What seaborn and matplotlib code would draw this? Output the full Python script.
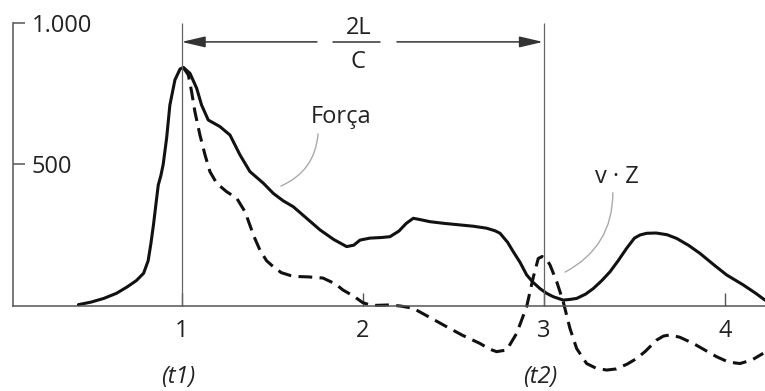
import matplotlib
matplotlib.use("Agg")
import matplotlib.pyplot as plt
import seaborn as sns

# ---- data ----
force_t = [0.43, 0.50, 0.57, 0.64, 0.70, 0.75, 0.79, 0.815, 0.83, 0.845, 0.858,
           0.871, 0.885, 0.898, 0.917, 0.935, 0.963, 0.991, 1.009, 1.046, 1.083,
           1.110, 1.147, 1.211, 1.267, 1.322, 1.377, 1.451, 1.506, 1.56, 1.616,
           1.69, 1.764, 1.84, 1.911, 1.95, 1.985, 2.04, 2.10, 2.15, 2.20, 2.24,
           2.279, 2.32, 2.371, 2.45, 2.53, 2.61, 2.684, 2.73, 2.758, 2.80, 2.831,
           2.868, 2.905, 2.94, 2.978, 3.015, 3.052, 3.107, 3.15, 3.181, 3.23,
           3.273, 3.32, 3.365, 3.41, 3.457, 3.50, 3.531, 3.567, 3.62, 3.68, 3.733,
           3.80, 3.862, 3.94, 4.009, 4.10, 4.17, 4.221]
force_v = [5, 14, 27, 45, 68, 90, 116, 160, 220, 290, 360,
           428, 460, 500, 593, 710, 799, 837, 843, 822, 769,
           710, 657, 634, 604, 534, 475, 434, 398, 372, 351,
           310, 269, 235, 210, 215, 233, 240, 242, 245, 265, 292,
           310, 305, 298, 292, 287, 282, 275, 266, 257, 225, 192,
           155, 110, 84, 62, 45, 33, 21, 24, 27, 42,
           62, 90, 121, 160, 204, 240, 251, 257, 258, 252, 239,
           214, 186, 145, 110, 75, 45, 21]

vz_t = [1.009, 1.037, 1.055, 1.073, 1.101, 1.129, 1.156, 1.193, 1.248, 1.304,
        1.350, 1.40, 1.432, 1.469, 1.506, 1.55, 1.60, 1.653, 1.70, 1.78, 1.85,
        1.89, 1.95, 2.0, 2.05, 2.15, 2.21, 2.279, 2.37, 2.463, 2.55, 2.647, 2.70,
        2.739, 2.795, 2.850, 2.905, 2.942, 2.969, 2.99, 3.015, 3.034, 3.071,
        3.107, 3.144, 3.181, 3.236, 3.29, 3.347, 3.40, 3.46, 3.513, 3.56, 3.623,
        3.66, 3.696, 3.75, 3.825, 3.954, 4.02, 4.083, 4.15, 4.211]
vz_v = [843, 816, 757, 687, 604, 534, 475, 434, 404, 381,
        333, 245, 198, 160, 139, 118, 108, 104, 103, 99, 78,
        57, 35, 12, 2, 4, 0, -8, -40, -73, -103, -132, -152,
        -161, -155, -96, -2, 103, 168, 175, 165, 145, 86,
        15, -79, -150, -203, -220, -226, -222, -205, -185, -160, -120,
        -106, -102, -110, -132, -179, -198, -203, -190, -167]

x_ticks = [1, 2, 3, 4]
x_tick_labels = ["1", "2", "3", "4"]
y_ticks = [500, 1000]
y_tick_labels = ["500", "1.000"]
t_marks = [1, 3]
t_labels = ["(t1)", "(t2)"]

# ---- style ----
sns.set_style("white")
plt.rcParams["font.family"] = ["Open Sans", "DejaVu Sans"]

AX_COL = "#555555"
TXT_COL = "#222222"
LINE_COL = "#111111"

fig = plt.figure(figsize=(7.65, 3.91), dpi=100)
ax = fig.add_axes([0, 0, 1, 1])
ax.set_facecolor("white")

sns.lineplot(x=force_t, y=force_v, ax=ax, color=LINE_COL, lw=2.2,
             estimator=None, sort=False)
line_vz = sns.lineplot(x=vz_t, y=vz_v, ax=ax, color=LINE_COL, lw=2.2,
                       estimator=None, sort=False)
ax.lines[-1].set_linestyle((0, (4.5, 2.4)))
for ln in ax.lines:
    ln.set_solid_joinstyle("round")
    ln.set_dash_capstyle("butt")

ax.set_xlim(-0.003, 4.221)
ax.set_ylim(-300, 1081)

for s in ["top", "right"]:
    ax.spines[s].set_visible(False)
ax.spines["left"].set_position(("data", 0.07))
ax.spines["left"].set_bounds(0, 1000)
ax.spines["bottom"].set_position(("data", 0))
ax.spines["bottom"].set_bounds(0.07, 4.221)
for s in ["left", "bottom"]:
    ax.spines[s].set_color(AX_COL)
    ax.spines[s].set_linewidth(1.1)

ax.set_xticks(x_ticks)
ax.set_xticklabels(x_tick_labels)
ax.set_yticks(y_ticks)
ax.set_yticklabels(y_tick_labels)
ax.tick_params(axis="x", bottom=True, direction="in", length=9.5, width=1.0,
               color=AX_COL, pad=9, labelsize=17, labelcolor=TXT_COL)
ax.tick_params(axis="y", left=True, direction="in", length=8.6, width=1.1,
               color=AX_COL, pad=-13.5, labelsize=17, labelcolor=TXT_COL)
for lab in ax.get_yticklabels():
    lab.set_horizontalalignment("left")

# t1 / t2 vertical lines
ax.vlines(t_marks, 0, 1000, color="#666666", lw=0.9)
for t, lab in zip(t_marks, t_labels):
    ax.text(t - 0.02, -250, lab, ha="center", va="center", fontsize=17,
            style="italic", color=TXT_COL)

# 2L/C arrow
arr = dict(arrowstyle="-|>,head_length=1.2,head_width=0.28", color="#333333",
           lw=1.1, mutation_scale=12, shrinkA=0, shrinkB=0)
ax.annotate("", xy=(1.0, 933), xytext=(1.747, 933), arrowprops=arr)
ax.annotate("", xy=(2.995, 933), xytext=(2.189, 933), arrowprops=arr)
ax.plot([1.836, 2.095], [933, 933], color="#333333", lw=1.1)
ax.text(1.98, 982, "2L", ha="center", va="center", fontsize=17, color=TXT_COL)
ax.text(1.975, 862, "C", ha="center", va="center", fontsize=17, color=TXT_COL)

# labels with leader lines
ax.text(1.88, 668, "Força", ha="center", va="center", fontsize=17, color=TXT_COL)
ax.annotate("", xy=(1.548, 424), xytext=(1.753, 608),
            arrowprops=dict(arrowstyle="-", color="#aaaaaa", lw=1.0,
                            connectionstyle="arc3,rad=-0.3", shrinkA=0, shrinkB=0))
ax.text(3.404, 456, "v · Z", ha="center", va="center", fontsize=17, color=TXT_COL)
ax.annotate("", xy=(3.117, 120), xytext=(3.381, 400),
            arrowprops=dict(arrowstyle="-", color="#aaaaaa", lw=1.0,
                            connectionstyle="arc3,rad=-0.3", shrinkA=0, shrinkB=0))

fig.savefig("out.png", dpi=100)
